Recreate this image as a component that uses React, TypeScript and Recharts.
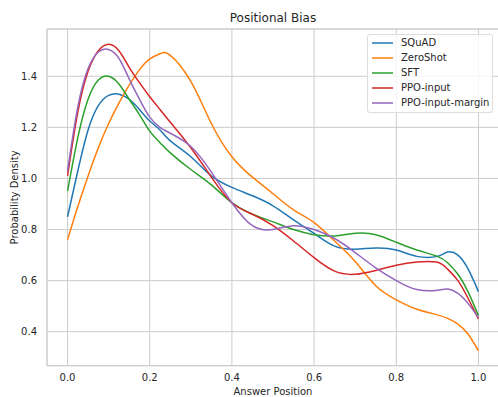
import { CartesianGrid, Line, LineChart, ReferenceArea, XAxis, YAxis } from 'recharts';

// answer positions (x) sampled off the curves
const positions = [0, 0.025, 0.05, 0.075, 0.1, 0.125, 0.15, 0.175, 0.2, 0.225, 0.25, 0.3, 0.35, 0.4, 0.45, 0.5, 0.55, 0.6, 0.65, 0.7, 0.75, 0.8, 0.85, 0.9, 0.925, 0.95, 0.975, 1.0];

const squad = [0.85, 1.03, 1.19, 1.285, 1.325, 1.33, 1.31, 1.27, 1.225, 1.19, 1.147, 1.085, 1.01, 0.965, 0.932, 0.893, 0.838, 0.785, 0.735, 0.723, 0.728, 0.72, 0.695, 0.695, 0.712, 0.7, 0.645, 0.557];
const zeroShot = [0.76, 0.89, 1.01, 1.12, 1.215, 1.295, 1.365, 1.425, 1.468, 1.488, 1.482, 1.38, 1.215, 1.085, 1.005, 0.94, 0.877, 0.827, 0.755, 0.675, 0.58, 0.525, 0.488, 0.466, 0.452, 0.43, 0.39, 0.325];
const sft = [0.95, 1.16, 1.31, 1.385, 1.4, 1.37, 1.31, 1.25, 1.185, 1.14, 1.1, 1.035, 0.975, 0.905, 0.86, 0.83, 0.8, 0.78, 0.775, 0.785, 0.78, 0.75, 0.72, 0.695, 0.67, 0.625, 0.555, 0.463];
const ppoInput = [1.01, 1.26, 1.42, 1.5, 1.525, 1.5, 1.435, 1.375, 1.32, 1.27, 1.22, 1.12, 1.005, 0.905, 0.86, 0.815, 0.755, 0.69, 0.637, 0.625, 0.64, 0.66, 0.673, 0.672, 0.645, 0.6, 0.53, 0.45];
const ppoInputMargin = [1.03, 1.28, 1.43, 1.495, 1.505, 1.47, 1.39, 1.31, 1.24, 1.2, 1.177, 1.125, 1.025, 0.905, 0.815, 0.8, 0.815, 0.8, 0.765, 0.71, 0.65, 0.6, 0.565, 0.562, 0.567, 0.55, 0.51, 0.455];

const xTicks = [0, 0.2, 0.4, 0.6, 0.8, 1.0];
const yTicks = [0.4, 0.6, 0.8, 1.0, 1.2, 1.4];

const series = [
  { key: 'squad', name: 'SQuAD', color: '#1f77b4', values: squad },
  { key: 'zeroShot', name: 'ZeroShot', color: '#ff7f0e', values: zeroShot },
  { key: 'sft', name: 'SFT', color: '#2ca02c', values: sft },
  { key: 'ppoInput', name: 'PPO-input', color: '#d62728', values: ppoInput },
  { key: 'ppoInputMargin', name: 'PPO-input-margin', color: '#9467bd', values: ppoInputMargin }
];

const chartData = positions.map((x, i) => {
  const row: Record<string, number> = { x };
  series.forEach(s => {
    row[s.key] = s.values[i];
  });
  return row;
});

const textColor = '#262626';
const gridColor = '#cccccc';

export default function App() {
  return (
    <div
      style={{
        position: 'absolute',
        left: 0,
        top: 0,
        width: 498,
        height: 397,
        overflow: 'hidden',
        background: '#fff',
        fontFamily: '"DejaVu Sans", sans-serif'
      }}
    >
      <div
        style={{
          position: 'absolute',
          left: 47,
          width: 452,
          top: 11,
          textAlign: 'center',
          fontSize: 12,
          lineHeight: '14px',
          color: textColor
        }}
      >
        Positional Bias
      </div>
      <LineChart width={499} height={397} data={chartData} margin={{ top: 29, right: 0, bottom: 0, left: 0 }}>
        <CartesianGrid stroke={gridColor} strokeWidth={1} />
        <ReferenceArea x1={-0.05} x2={1.05} y1={0.267} y2={1.585} fill="none" stroke={gridColor} />
        <XAxis
          dataKey="x"
          type="number"
          domain={[-0.05, 1.05]}
          ticks={xTicks}
          allowDataOverflow
          tickFormatter={v => v.toFixed(1)}
          tickLine={false}
          axisLine={false}
          tickSize={0}
          tickMargin={8}
          height={31.3}
          tick={{ fill: textColor, fontSize: 10 }}
          label={{ value: 'Answer Position', position: 'insideBottom', offset: 2, fill: textColor, fontSize: 10 }}
        />
        <YAxis
          type="number"
          domain={[0.267, 1.585]}
          ticks={yTicks}
          allowDataOverflow
          tickFormatter={v => v.toFixed(1)}
          tickLine={false}
          axisLine={false}
          tickSize={0}
          tickMargin={10}
          width={47}
          tick={{ fill: textColor, fontSize: 10 }}
          label={{
            value: 'Probability Density',
            angle: -90,
            position: 'insideLeft',
            offset: 14,
            fill: textColor,
            fontSize: 10,
            style: { textAnchor: 'middle' }
          }}
        />
        {series.map(s => (
          <Line
            key={s.key}
            type="natural"
            dataKey={s.key}
            name={s.name}
            stroke={s.color}
            strokeWidth={1.5}
            dot={false}
            isAnimationActive={false}
          />
        ))}
      </LineChart>
      <div
        style={{
          position: 'absolute',
          left: 367,
          top: 34,
          width: 124,
          paddingBottom: 2,
          border: '1px solid #dddddd',
          borderRadius: 3,
          background: 'rgba(255,255,255,0.8)',
          fontSize: 10,
          color: textColor
        }}
      >
        {series.map(s => (
          <div key={s.key} style={{ display: 'flex', alignItems: 'center', height: 15 }}>
            <svg width={21} height={4} style={{ marginLeft: 4, flexShrink: 0 }}>
              <line x1={0} y1={2} x2={21} y2={2} stroke={s.color} strokeWidth={1.5} />
            </svg>
            <span style={{ marginLeft: 8, whiteSpace: 'nowrap' }}>{s.name}</span>
          </div>
        ))}
      </div>
    </div>
  );
}
